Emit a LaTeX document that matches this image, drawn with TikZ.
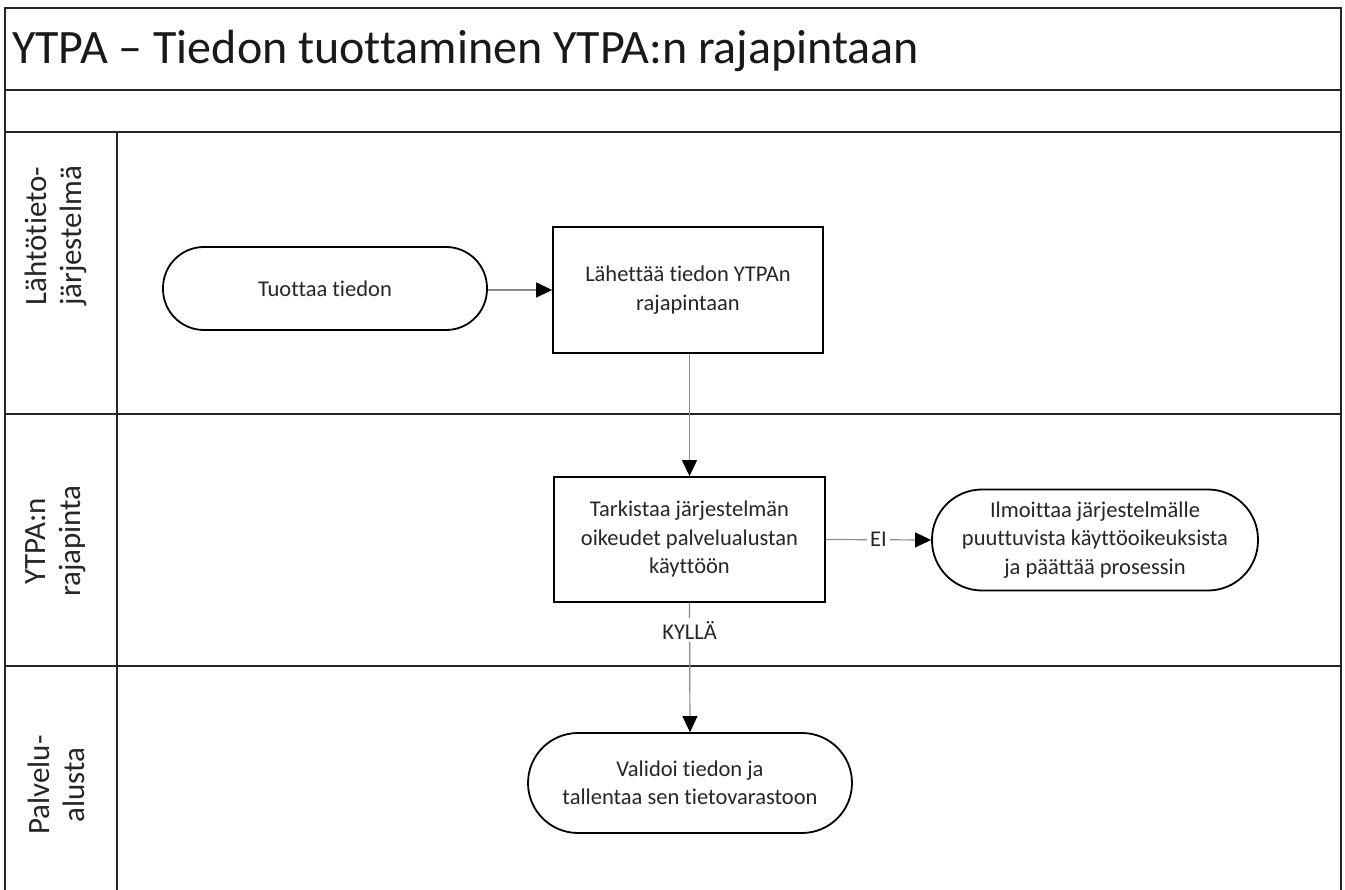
\documentclass[tikz,border=0pt]{standalone}
\usepackage{fontspec}
\setmainfont{Carlito}[Ligatures=CommonOff]
\usetikzlibrary{arrows.meta}

\tikzset{
  frame/.style={draw=black!85, line width=1.8pt},
  proc/.style={draw=black, line width=1.8pt, fill=white, rectangle, align=center,
    inner sep=2pt, text=black!85, font=\fontsize{22.5}{28.5}\selectfont},
  term/.style={proc, rounded corners=#1},
  flow/.style={draw=black!45, line width=1.2pt,
    -{Triangle[length=16pt, width=15pt, color=black]}},
  flowlabel/.style={fill=white, inner sep=3pt, text=black!85,
    font=\fontsize{22.5}{26}\selectfont},
  lanelabel/.style={rotate=90, align=center, text=black!85,
    font=\fontsize{31}{35}\selectfont},
}

\begin{document}
\begin{tikzpicture}[x=1pt, y=-1pt]
\useasboundingbox (0,0) rectangle (1345,890);
\fill[white] (0,0) rectangle (1345,890);

% pool frame, title row and empty header row
\draw[frame] (5,890) -- (5,8) -- (1341,8) -- (1341,890);
\draw[frame] (5,90) -- (1341,90);
\draw[frame] (5,132) -- (1341,132);
% lane separators and lane header column
\draw[frame] (5,414) -- (1341,414);
\draw[frame] (5,666) -- (1341,666);
\draw[frame] (117,132) -- (117,890);

\node[anchor=base west, text=black!90, font=\fontsize{48}{54}\selectfont, inner sep=0pt]
  (title) at (12,64) {YTPA – Tiedon tuottaminen YTPA:n rajapintaan};

% lane names
\node[lanelabel] (lane1) at (56,236) {Lähtötieto-\\järjestelmä};
\node[lanelabel] (lane2) at (56,541) {YTPA:n\\rajapinta};
\node[lanelabel] (lane3) at (56,785) {Palvelu-\\alusta};

% process steps
\node[term=41pt, minimum width=324pt, minimum height=83pt] (t1) at (325,288.5) {Tuottaa tiedon};
\node[proc, minimum width=270pt, minimum height=126pt] (b1) at (688,290) {Lähettää tiedon YTPAn\\rajapintaan};
\node[proc, minimum width=271pt, minimum height=125pt] (b2) at (689.5,539.5) {Tarkistaa järjestelmän\\oikeudet palvelualustan\\käyttöön};
\node[term=50pt, minimum width=326pt, minimum height=101pt] (t2) at (1095,540) {Ilmoittaa järjestelmälle\\puuttuvista käyttöoikeuksista\\ja päättää prosessin};
\node[term=50pt, minimum width=324pt, minimum height=100pt] (t3) at (690,783) {Validoi tiedon ja\\tallentaa sen tietovarastoon};

% connectors
\draw[flow] (t1.east |- b1.west) -- (b1.west);
\draw[flow] (b2.north |- b1.south) -- (b2.north);
\draw[flow] (b2.east) -- node[flowlabel] (ei) {EI} (t2.west);
\draw[flow] (b2.south) -- node[flowlabel, pos=0.21] (kylla) {KYLLÄ} (t3.north);
\end{tikzpicture}
\end{document}
